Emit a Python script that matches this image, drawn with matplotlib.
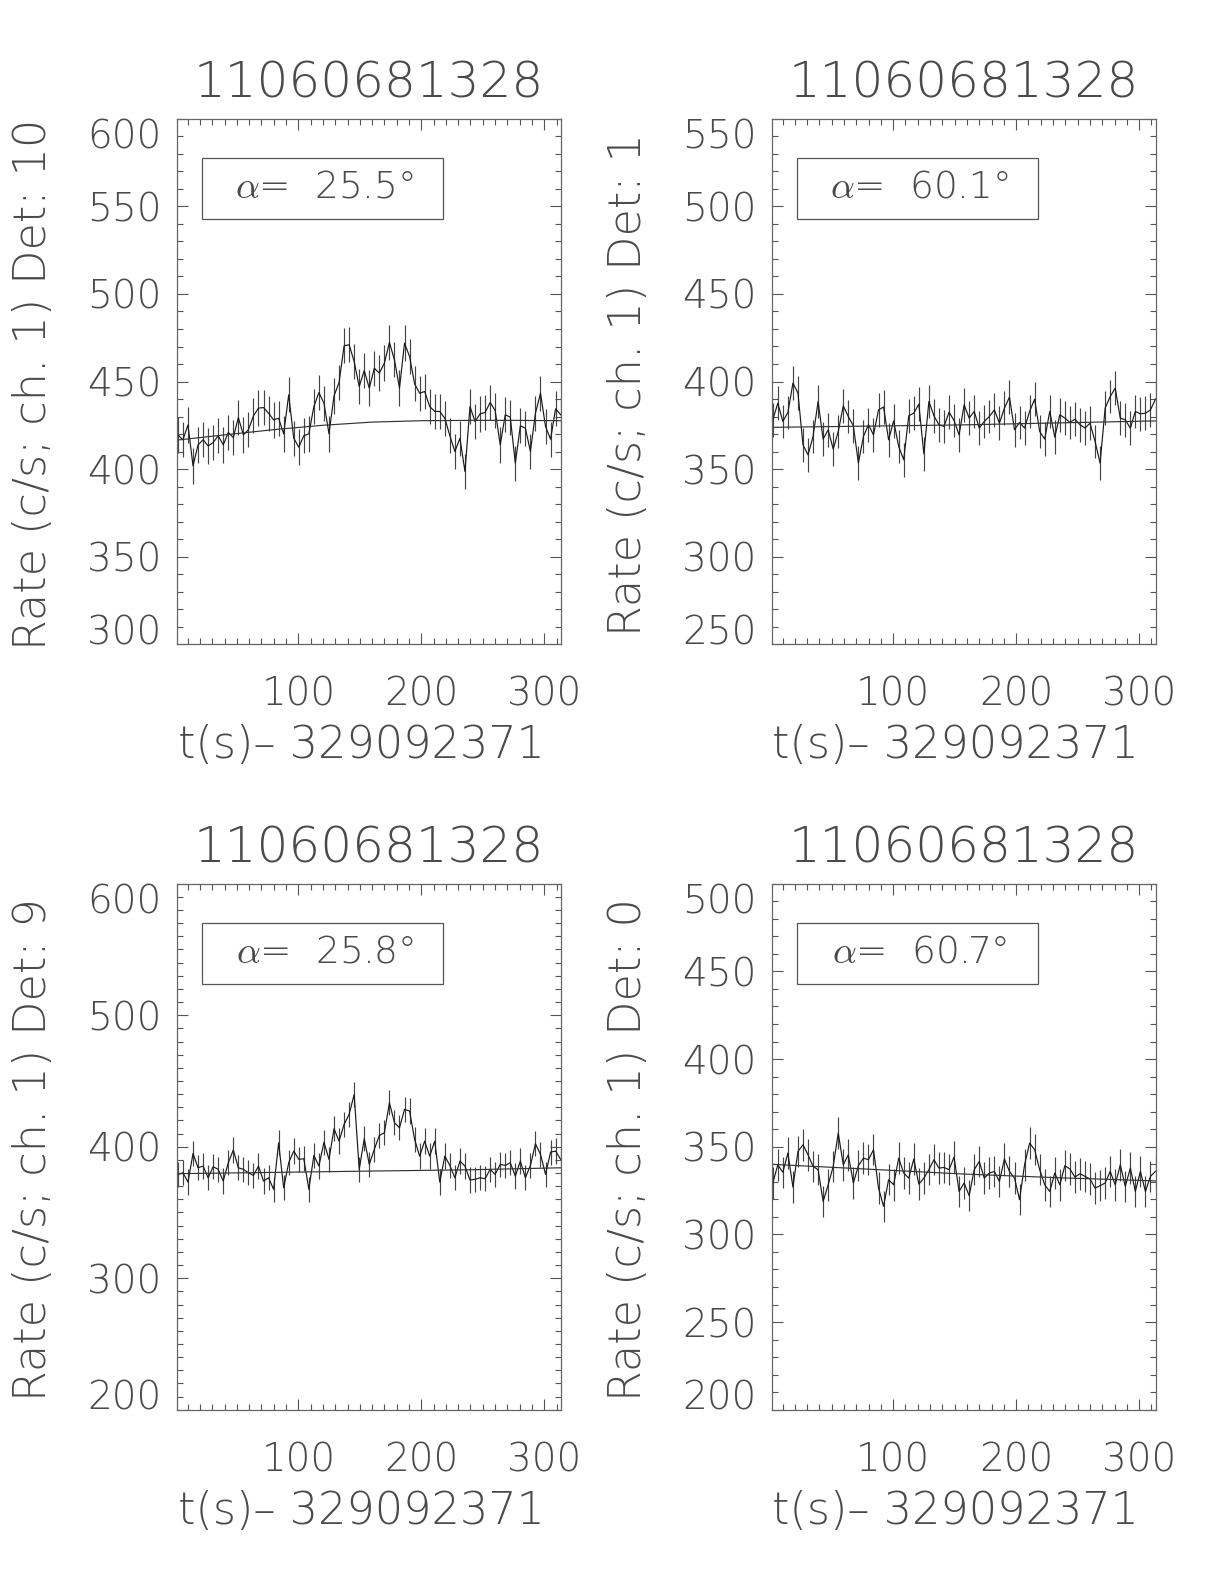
import numpy as np
import matplotlib
matplotlib.use('Agg')
import matplotlib.pyplot as plt
from matplotlib.patches import Rectangle
from matplotlib.ticker import MultipleLocator


# GBM CSPEC bins (4.096 s), times relative to 329092371
t_start = 2.048
bin_width = 4.096

trigger = '11060681328'
t_offset = '329092371'

# Top left: Det 10
rate_det10 = [419.5, 416.7, 425.2, 401.8, 413.8, 416.7, 413.2, 415.1, 419.0, 413.8,
              420.9, 418.0, 429.4, 419.5, 422.4, 430.4, 434.8, 435.1, 431.9, 428.1,
              429.0, 420.1, 442.4, 417.6, 412.5, 419.0, 420.1, 435.7, 443.7, 437.6,
              420.1, 441.8, 449.4, 470.4, 471.0, 461.4, 447.1, 456.3, 446.2, 457.6,
              454.8, 460.5, 472.3, 462.4, 446.2, 471.9, 464.3, 448.7, 443.3, 444.3,
              435.7, 432.9, 432.9, 429.0, 419.0, 410.0, 417.6, 398.6, 435.7, 427.1,
              431.5, 432.3, 438.0, 433.4, 413.8, 431.0, 429.6, 403.3, 424.7, 423.3,
              410.0, 431.9, 443.3, 424.3, 417.0, 434.4, 431.0]
bkg_t_det10 = [1, 40, 80, 120, 160, 200, 240, 280, 314]
bkg_det10 = [416.5, 419.5, 422.5, 425.0, 426.8, 427.6, 427.8, 427.8, 427.6]

# Top right: Det 1
rate_det1 = [378.1, 387.6, 377.2, 382.3, 399.1, 393.4, 363.8, 358.1, 368.6, 388.6,
             367.1, 372.4, 361.4, 371.4, 386.1, 380.0, 374.7, 353.4, 368.6, 375.3,
             369.5, 383.8, 385.4, 366.7, 377.5, 362.9, 355.3, 380.4, 381.9, 387.1,
             358.7, 388.6, 380.4, 375.3, 374.3, 382.5, 377.7, 369.5, 386.7, 379.1,
             382.9, 373.4, 377.2, 380.0, 383.8, 376.2, 384.8, 391.1, 372.4, 376.6,
             373.4, 382.9, 389.9, 371.4, 367.1, 382.9, 368.2, 381.0, 379.1, 376.6,
             378.5, 375.3, 373.4, 376.2, 365.7, 353.4, 384.8, 391.4, 396.2, 379.1,
             378.1, 373.4, 382.9, 381.5, 381.9, 383.8, 390.0]
bkg_t_det1 = [1, 155, 314]
bkg_det1 = [373.8, 375.2, 377.5]

# Bottom left: Det 9
rate_det9 = [379.0, 380.2, 373.1, 394.9, 384.0, 385.3, 376.4, 384.8, 382.8, 373.9,
             387.8, 397.5, 384.0, 382.8, 380.2, 378.2, 385.3, 373.9, 376.4, 367.6,
             403.0, 368.8, 387.8, 396.7, 390.4, 390.9, 367.6, 393.4, 385.3, 403.5,
             390.4, 413.7, 404.3, 417.0, 424.6, 439.8, 382.8, 406.1, 386.6, 398.0,
             408.6, 410.6, 433.5, 418.3, 414.4, 428.4, 427.1, 405.6, 392.9, 404.3,
             392.9, 404.3, 373.1, 392.9, 385.8, 376.4, 389.1, 385.3, 374.7, 375.2,
             376.4, 375.7, 382.8, 379.0, 386.6, 385.8, 387.8, 377.7, 389.1, 376.4,
             385.8, 402.3, 394.2, 379.0, 395.9, 396.7, 390.4]
bkg_t_det9 = [1, 80, 160, 240, 314]
bkg_det9 = [379.5, 380.5, 381.5, 382.5, 384.0]

# Bottom right: Det 0
rate_det0 = [329.3, 339.7, 335.4, 346.4, 327.0, 347.3, 351.1, 345.4, 338.8, 336.9,
             318.8, 328.3, 338.8, 357.8, 339.7, 345.4, 329.3, 339.2, 343.5, 342.6,
             348.3, 326.4, 316.0, 331.2, 328.3, 343.5, 335.0, 332.1, 343.0, 328.7,
             332.1, 336.9, 342.6, 337.8, 338.2, 336.9, 344.1, 324.5, 329.3, 322.1,
             336.9, 341.6, 332.1, 335.0, 335.9, 330.2, 343.0, 335.9, 332.1, 319.8,
             339.7, 352.1, 348.3, 336.9, 328.3, 324.5, 335.0, 328.3, 339.2, 337.3,
             332.7, 334.6, 333.1, 331.6, 326.4, 327.8, 329.3, 335.9, 328.3, 339.7,
             327.4, 337.8, 324.5, 335.9, 324.5, 333.1, 336.0]
bkg_t_det0 = [1, 80, 155, 235, 314]
bkg_det0 = [340.0, 337.2, 334.5, 332.3, 330.5]

# error bar half widths (c/s)
err_det10 = 10.1
err_det1 = 9.6
err_det9 = 9.6
err_det0 = 9.0

angles = [25.5, 60.1, 25.8, 60.7]
dets = [10, 1, 9, 0]
ylims = [(300, 600), (250, 550), (200, 600), (200, 500)]
ymajor = [50, 50, 100, 50]

plt.rcParams['font.family'] = ['DejaVu Sans']
plt.rcParams['font.weight'] = 'ultralight'
plt.rcParams['mathtext.fontset'] = 'cm'
txt_color = '#4a4a4a'
line_color = '#1a1a1a'


def plot_panel(ax, rate, err, bkg_t, bkg, angle, det, ylim, ymaj):
    '''
    Draw one IDL-like light curve panel with error bars and background fit.
    '''
    t = t_start + bin_width * np.arange(len(rate))
    ax.errorbar(t, rate, yerr=err, fmt='none', ecolor='#444444', elinewidth=0.85)
    ax.plot(t, rate, c=line_color, linewidth=0.85)
    ax.plot(bkg_t, bkg, c='#333333', linewidth=0.85)

    ax.set_xlim(1.1, 314)
    ax.set_ylim(*ylim)
    ax.set_xticks([100, 200, 300])
    ax.xaxis.set_minor_locator(MultipleLocator(10))
    ax.set_yticks(np.arange(ylim[0], ylim[1] + 1, ymaj))
    ax.yaxis.set_minor_locator(MultipleLocator(10))
    ax.tick_params(which='both', direction='in', top=True, right=True,
                   colors='#555555', labelcolor=txt_color, width=0.8)
    ax.tick_params(which='major', length=8, labelsize=28)
    ax.tick_params(which='minor', length=4)
    ax.tick_params(axis='x', which='major', pad=23)
    ax.tick_params(axis='y', which='major', pad=11)
    for lab in ax.get_xticklabels() + ax.get_yticklabels():
        lab.set_fontweight('ultralight')
    # IDL keeps the end labels inside the axis range
    yt = ax.yaxis.get_major_ticks()
    yt[0].label1.set_va('baseline')
    yt[-1].label1.set_va('top')
    for sp in ax.spines.values():
        sp.set_color('#666666')
        sp.set_linewidth(0.9)

    ax.set_title(trigger, fontsize=36, color=txt_color, pad=15.5, fontweight='ultralight')
    ax.set_xlabel('t(s)\u2013 ' + t_offset, fontsize=32, color=txt_color, fontweight='ultralight')
    ax.xaxis.set_label_coords(0.479, -0.152)
    ax.set_ylabel('Rate (c/s; ch. 1) Det: {}'.format(det), fontsize=32, color=txt_color,
                  fontweight='ultralight')
    ax.yaxis.set_label_coords(-0.317, 0.495)

    # alpha annotation box
    ax.add_patch(Rectangle((0.065, 0.81), 0.628, 0.115, transform=ax.transAxes,
                           fill=False, edgecolor='#555555', linewidth=0.9))
    ax.text(0.385, 0.871, r'$\alpha$=  {:.1f}°'.format(angle), transform=ax.transAxes,
            ha='center', va='center', fontsize=27, color=txt_color, fontweight='ultralight')


fig = plt.figure(figsize=(12.24, 15.84), dpi=100)
ax_tl = fig.add_axes([0.1444, 0.5934, 0.3143, 0.3315])
ax_tr = fig.add_axes([0.6304, 0.5934, 0.3143, 0.3315])
ax_bl = fig.add_axes([0.1444, 0.1100, 0.3143, 0.3321])
ax_br = fig.add_axes([0.6304, 0.1100, 0.3143, 0.3321])

plot_panel(ax_tl, rate_det10, err_det10, bkg_t_det10, bkg_det10, angles[0], dets[0], ylims[0], ymajor[0])
plot_panel(ax_tr, rate_det1, err_det1, bkg_t_det1, bkg_det1, angles[1], dets[1], ylims[1], ymajor[1])
plot_panel(ax_bl, rate_det9, err_det9, bkg_t_det9, bkg_det9, angles[2], dets[2], ylims[2], ymajor[2])
plot_panel(ax_br, rate_det0, err_det0, bkg_t_det0, bkg_det0, angles[3], dets[3], ylims[3], ymajor[3])

fig.savefig('out.png', dpi=100)
